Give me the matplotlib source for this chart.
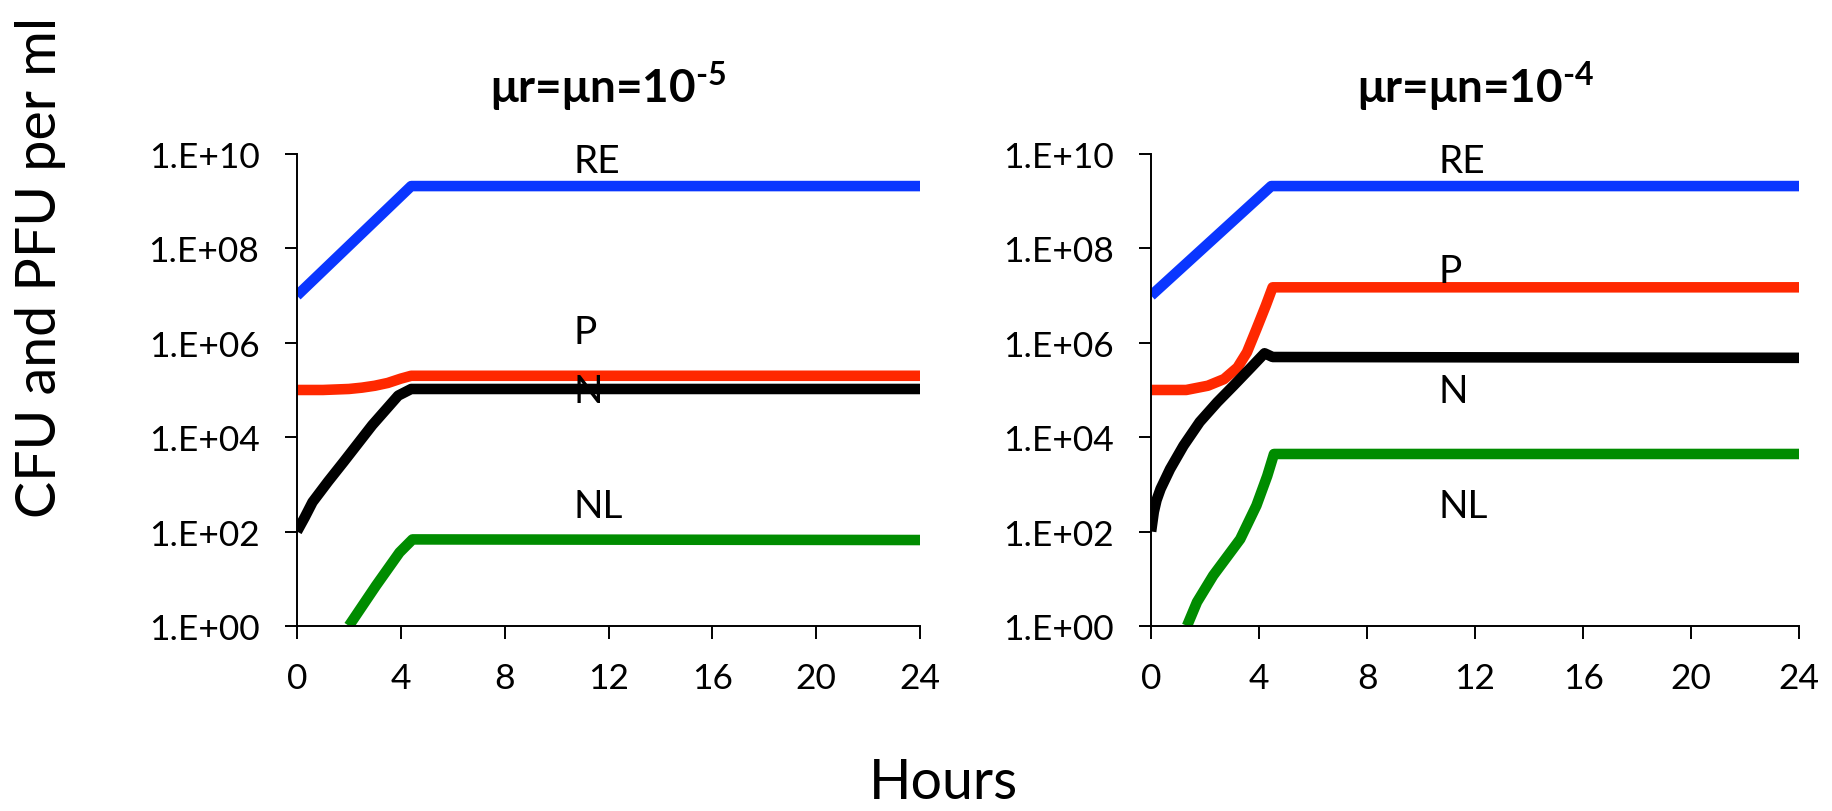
import matplotlib
matplotlib.use("Agg")
import matplotlib.pyplot as plt
from matplotlib.ticker import FixedLocator, NullLocator

plt.rcParams['font.family'] = ['Lato', 'DejaVu Sans']
plt.rcParams['mathtext.fontset'] = 'custom'
plt.rcParams['mathtext.rm'] = 'Lato'
plt.rcParams['mathtext.bf'] = 'Lato:bold'

# mu = 1e-5 run
t_re_a = [0, 4.4, 24]
re_a = [1.0e7, 2.1e9, 2.1e9]
t_p_a = [0, 1, 2, 2.5, 3, 3.5, 4, 4.4, 24]
p_a = [1.0e5, 1.0e5, 1.05e5, 1.12e5, 1.23e5, 1.41e5, 1.74e5, 2.0e5, 2.0e5]
t_n_a = [0, 0.3, 0.6, 1.2, 1.8, 2.9, 3.9, 4.4, 24]
n_a = [1.0e2, 2.0e2, 4.2e2, 1.15e3, 3.0e3, 1.8e4, 7.6e4, 1.05e5, 1.05e5]
t_nl_a = [2.0, 3.05, 3.95, 4.45, 24]
nl_a = [1.0, 7.2, 36, 68, 66]

# mu = 1e-4 run
t_re_b = [0, 4.45, 24]
re_b = [1.0e7, 2.1e9, 2.1e9]
t_p_b = [0, 1.3, 2.1, 2.7, 3.2, 3.55, 3.9, 4.25, 4.5, 24]
p_b = [1.0e5, 1.0e5, 1.23e5, 1.7e5, 3.0e5, 6.3e5, 1.95e6, 6.2e6, 1.5e7, 1.5e7]
t_n_b = [0, 0.1, 0.2, 0.35, 0.7, 1.2, 1.8, 2.45, 3.05, 3.7, 4.2, 4.5, 24]
n_b = [1.0e2, 2.6e2, 4.6e2, 8.0e2, 2.1e3, 6.6e3, 2.1e4, 5.5e4, 1.23e5, 3.0e5, 6.0e5, 5.0e5, 4.8e5]
t_nl_b = [1.33, 1.7, 2.3, 3.3, 3.9, 4.3, 4.55, 24]
nl_b = [1.0, 3.2, 11.7, 69, 355, 1.5e3, 4.4e3, 4.4e3]

titles = ['μr=μn=10$^{\\mathbf{\u20105}}$', 'μr=μn=10$^{\\mathbf{\u20104}}$']
yticks = [1e0, 1e2, 1e4, 1e6, 1e8, 1e10]
ytick_labels = ['1.E+00', '1.E+02', '1.E+04', '1.E+06', '1.E+08', '1.E+10']
xticks = [0, 4, 8, 12, 16, 20, 24]

# curve name tags: (name, y position) per panel, x in hours
tag_x = 10.65
tags_a = [('RE', 4.2e9), ('P', 1.0e6), ('N', 5.6e4), ('NL', 2.0e2)]
tags_b = [('RE', 4.2e9), ('P', 1.95e7), ('N', 5.6e4), ('NL', 2.0e2)]

blue = '#0a36ff'
red = '#ff2800'
black = '#000000'
green = '#008c00'

fig = plt.figure(figsize=(18.33, 8.12), dpi=100)
ax1 = fig.add_axes([0.162, 0.228, 0.340, 0.581])
ax2 = fig.add_axes([0.628, 0.228, 0.3535, 0.581])

runs = [
    (ax1, [(t_re_a, re_a, blue), (t_p_a, p_a, red), (t_n_a, n_a, black), (t_nl_a, nl_a, green)], tags_a),
    (ax2, [(t_re_b, re_b, blue), (t_p_b, p_b, red), (t_n_b, n_b, black), (t_nl_b, nl_b, green)], tags_b),
]

for i, (ax, series, tags) in enumerate(runs):
    for t, v, c in series:
        ax.plot(t, v, color=c, lw=7.6, solid_joinstyle='round', solid_capstyle='butt')
    ax.set_yscale('log')
    ax.set_xlim(0, 24)
    ax.set_ylim(1, 1e10)
    ax.yaxis.set_major_locator(FixedLocator(yticks))
    ax.yaxis.set_minor_locator(NullLocator())
    ax.set_yticklabels(ytick_labels)
    ax.set_xticks(xticks)
    ax.spines['top'].set_visible(False)
    ax.spines['right'].set_visible(False)
    for s in ('left', 'bottom'):
        ax.spines[s].set_linewidth(1.4)
    ax.tick_params(axis='both', direction='out', length=9, width=1.4, labelsize=25.5)
    ax.tick_params(axis='y', pad=18)
    ax.tick_params(axis='x', pad=17)
    for name, y in tags:
        ax.text(tag_x, y, name, fontsize=28, ha='left', va='baseline')
    ax.text(0.5, 1.11, titles[i], transform=ax.transAxes, ha='center',
            va='baseline', fontsize=33, fontweight='bold')

fig.text(41 / 1833, 1 - 267 / 812, 'CFU and PFU per ml', rotation=90,
         ha='center', va='center', fontsize=40)
fig.text(943 / 1833, 1 - 784 / 812, 'Hours', ha='center', va='center', fontsize=40)

fig.savefig('out.png', dpi=100)
